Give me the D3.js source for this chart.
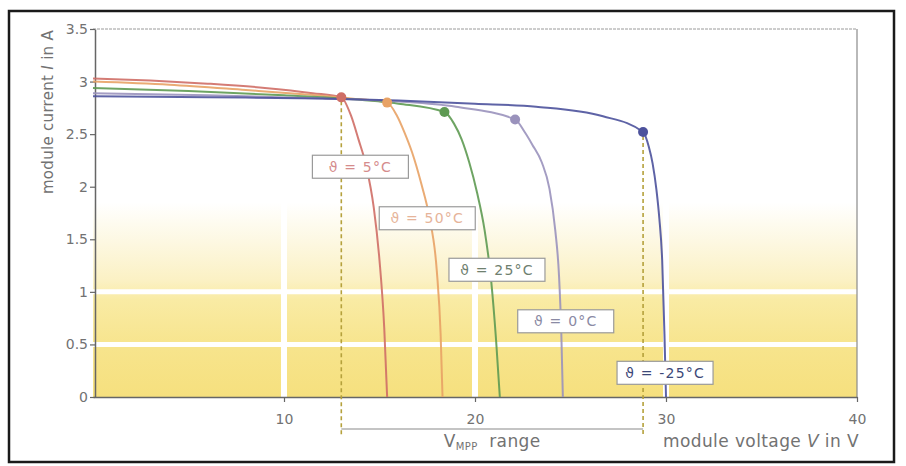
<!DOCTYPE html>
<html>
<head>
<meta charset="utf-8">
<script src="https://cdn.jsdelivr.net/npm/d3@7"></script>
<style>
html,body{margin:0;padding:0;background:#fff;}
svg{display:block;font-family:"DejaVu Sans","Open Sans",sans-serif;}
</style>
</head>
<body>
<svg id="chart" width="906" height="466"></svg>
<script>
// ---- data ----
const seriesNames = ["ϑ = 5°C", "ϑ = 50°C", "ϑ = 25°C", "ϑ = 0°C", "ϑ = -25°C"];
const seriesColors = ["#cf6e66", "#e8a265", "#5e9a52", "#9a92bc", "#4d529c"];
const labelColors = ["#d58c8c", "#e6b49a", "#6f806f", "#8a8aa4", "#3c4878"];
const voltage5 = [0, 3, 6, 9, 11.5, 13, 13.5, 13.9, 14.3, 14.7, 15.0, 15.25, 15.4];
const current5 = [3.03, 3.01, 2.98, 2.94, 2.89, 2.85, 2.68, 2.45, 2.20, 1.80, 1.30, 0.65, 0];
const voltage50 = [0, 4, 8, 11, 13.5, 15.4, 15.9, 16.3, 16.7, 17.2, 17.6, 18.0, 18.2, 18.3];
const current50 = [3.00, 2.97, 2.92, 2.88, 2.84, 2.80, 2.68, 2.52, 2.33, 2.02, 1.72, 1.20, 0.60, 0];
const voltage25 = [0, 5, 10, 13, 16, 18.4, 18.9, 19.3, 19.7, 20.1, 20.5, 20.85, 21.1, 21.3];
const current25 = [2.94, 2.91, 2.87, 2.84, 2.79, 2.71, 2.60, 2.45, 2.23, 1.95, 1.59, 1.10, 0.55, 0];
const voltage0 = [0, 6, 12, 16, 19, 22.1, 22.6, 23.0, 23.5, 23.9, 24.2, 24.4, 24.52, 24.6];
const current0 = [2.89, 2.87, 2.84, 2.81, 2.76, 2.64, 2.52, 2.40, 2.23, 1.98, 1.59, 1.15, 0.60, 0];
const voltageM25 = [0, 6, 12, 16, 20, 23.2, 26.7, 28.8, 29.1, 29.3, 29.5, 29.65, 29.8, 29.92, 30.0];
const currentM25 = [2.86, 2.85, 2.84, 2.82, 2.79, 2.76, 2.67, 2.52, 2.38, 2.22, 1.97, 1.70, 1.30, 0.60, 0];
const mppV = [13.0, 15.4, 18.4, 22.1, 28.8];
const mppI = [2.85, 2.80, 2.71, 2.64, 2.52];
const labelV = [14.0, 17.5, 21.15, 24.75, 29.95];
const labelI = [2.19, 1.70, 1.21, 0.72, 0.23];
const xTicks = [10, 20, 30, 40];
const yTicks = [0, 0.5, 1, 1.5, 2, 2.5, 3, 3.5];
const yTickLabels = ["0", "0.5", "1", "1.5", "2", "2.5", "3", "3.5"];
const vmppRange = [13.0, 28.8];

const voltages = [voltage5, voltage50, voltage25, voltage0, voltageM25];
const currents = [current5, current50, current25, current0, currentM25];

// ---- layout ----
const svg = d3.select("#chart");
const x = d3.scaleLinear().domain([0, 40]).range([93, 857]);
const y = d3.scaleLinear().domain([0, 3.5]).range([397, 29]);
const textGray = "#727272";

// outer frame
svg.append("rect").attr("x", 9).attr("y", 11).attr("width", 885).attr("height", 451)
  .attr("fill", "none").attr("stroke", "#1a1a1a").attr("stroke-width", 2.5);

// yellow gradient background
const defs = svg.append("defs");
const grad = defs.append("linearGradient").attr("id", "bg").attr("x1", 0).attr("y1", 1).attr("x2", 0).attr("y2", 0);
[[0, "#f6e07e"], [0.25, "#f7e48c"], [0.5, "#f9eba4"], [0.6, "#fbf1c4"], [0.8, "#fdf8e2"], [1, "#ffffff"]]
  .forEach(s => grad.append("stop").attr("offset", s[0]).attr("stop-color", s[1]));
svg.append("rect").attr("x", x(0)).attr("y", y(1.85)).attr("width", x(40) - x(0)).attr("height", y(0) - y(1.85))
  .attr("fill", "url(#bg)");

// white grid lines
svg.append("g").selectAll("line").data([0.5, 1]).join("line")
  .attr("x1", x(0)).attr("x2", x(40)).attr("y1", d => y(d)).attr("y2", d => y(d))
  .attr("stroke", "#fff").attr("stroke-width", 5);
svg.append("g").selectAll("line").data([10, 20, 30]).join("line")
  .attr("x1", d => x(d)).attr("x2", d => x(d)).attr("y1", y(0)).attr("y2", y(1.85))
  .attr("stroke", "#fff").attr("stroke-width", 6);

// plot frame top/right
svg.append("line").attr("x1", x(0)).attr("x2", x(40)).attr("y1", y(3.5)).attr("y2", y(3.5))
  .attr("stroke", "#9a9a9a").attr("stroke-width", 1).attr("stroke-dasharray", "3,1");
svg.append("line").attr("x1", x(40)).attr("x2", x(40)).attr("y1", y(3.5)).attr("y2", y(0))
  .attr("stroke", "#8a8a8a").attr("stroke-width", 1.2);

// axes
const xAxis = svg.append("g").attr("transform", `translate(0,${y(0)})`)
  .call(d3.axisBottom(x).tickValues(xTicks).tickSize(5).tickSizeOuter(0));
const yAxis = svg.append("g").attr("transform", `translate(${x(0) + 2},0)`)
  .call(d3.axisLeft(y).tickValues(yTicks).tickFormat((d, i) => yTickLabels[i]).tickSize(5).tickSizeOuter(0));
[xAxis, yAxis].forEach(g => {
  g.select(".domain").attr("stroke", "#666").attr("stroke-width", 1.5);
  g.selectAll(".tick line").attr("stroke", "#666").attr("stroke-width", 1.2);
  g.selectAll(".tick text").attr("fill", textGray).attr("font-size", 14)
    .attr("font-family", "'DejaVu Sans','Open Sans',sans-serif");
});
xAxis.selectAll(".tick text").attr("dy", "1.35em");
yAxis.selectAll(".tick text").attr("dx", "1px");

// axis titles
const yt = svg.append("text").attr("transform", `translate(53,112) rotate(-90)`)
  .attr("text-anchor", "middle").attr("fill", textGray).attr("font-size", 15).attr("letter-spacing", 0.3);
yt.append("tspan").text("module current ");
yt.append("tspan").attr("font-style", "italic").text("I");
yt.append("tspan").text(" in A");

const xt = svg.append("text").attr("x", x(40) + 2).attr("y", 447).attr("text-anchor", "end")
  .attr("fill", textGray).attr("font-size", 17).attr("letter-spacing", 0.4);
xt.append("tspan").text("module voltage ");
xt.append("tspan").attr("font-style", "italic").text("V");
xt.append("tspan").text(" in V");

// VMPP range
const rangeY = 429;
svg.append("line").attr("x1", x(vmppRange[0])).attr("x2", x(vmppRange[1])).attr("y1", rangeY).attr("y2", rangeY)
  .attr("stroke", "#8a8a8a").attr("stroke-width", 1.2);
const vl = svg.append("text").attr("x", (x(vmppRange[0]) + x(vmppRange[1])) / 2).attr("y", 447)
  .attr("text-anchor", "middle").attr("fill", textGray).attr("font-size", 17).attr("letter-spacing", 0.4)
  .attr("xml:space", "preserve");
vl.append("tspan").text("V");
vl.append("tspan").attr("font-size", 10).attr("dy", 3).text("MPP");
vl.append("tspan").attr("dy", -3).text("  range");

// dashed verticals
svg.append("g").selectAll("line").data([0, 4]).join("line")
  .attr("x1", i => x(mppV[i])).attr("x2", i => x(mppV[i]))
  .attr("y1", i => y(mppI[i]) + 4).attr("y2", 436)
  .attr("stroke", "#b5a13c").attr("stroke-width", 1.6).attr("stroke-dasharray", "4,3");

// curves
const line = d3.line().x(d => x(d[0])).y(d => y(d[1])).curve(d3.curveMonotoneX);
svg.append("g").selectAll("path").data(d3.range(5)).join("path")
  .attr("d", i => line(voltages[i].map((v, j) => [v, currents[i][j]])))
  .attr("fill", "none").attr("stroke", i => seriesColors[i]).attr("stroke-width", 2).attr("stroke-opacity", 0.9);

// MPP dots
svg.append("g").selectAll("circle").data(d3.range(5)).join("circle")
  .attr("cx", i => x(mppV[i])).attr("cy", i => y(mppI[i])).attr("r", 5)
  .attr("fill", i => seriesColors[i]);

// labels
const lg = svg.append("g").selectAll("g").data(d3.range(5)).join("g")
  .attr("transform", i => `translate(${x(labelV[i])},${y(labelI[i])})`);
lg.append("rect").attr("x", -48).attr("y", -11.5).attr("width", 96).attr("height", 23)
  .attr("fill", "#fff").attr("stroke", "#9a9a9a").attr("stroke-width", 1.2);
lg.append("text").attr("text-anchor", "middle").attr("dy", "0.37em").attr("font-size", 14)
  .attr("letter-spacing", 1.2)
  .attr("fill", i => labelColors[i]).text(i => seriesNames[i]);
</script>
</body>
</html>
